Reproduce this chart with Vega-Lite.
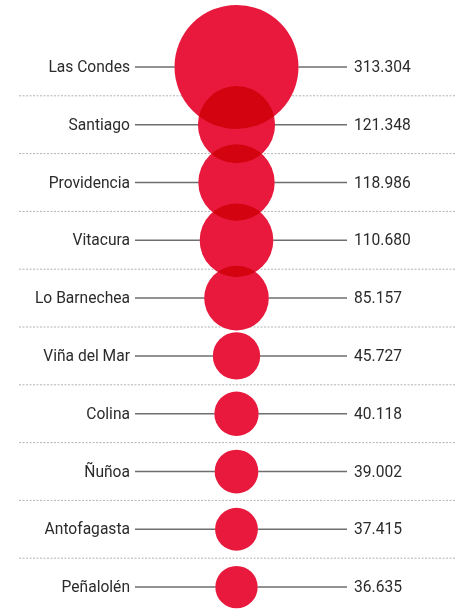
{
  "$schema": "https://vega.github.io/schema/vega-lite/v6.json",
  "width": 437,
  "height": 578,
  "autosize": {"type": "none"},
  "padding": {"left": 18, "top": 38, "right": 4, "bottom": 0},
  "background": "white",
  "config": {
    "view": {"stroke": null},
    "locale": {"number": {"decimal": ",", "thousands": ".", "grouping": [3], "currency": ["$", ""]}},
    "text": {"font": "Roboto"}
  },
  "data": {
    "values": [
      {"comuna": "Las Condes", "valor": 313304},
      {"comuna": "Santiago", "valor": 121348},
      {"comuna": "Providencia", "valor": 118986},
      {"comuna": "Vitacura", "valor": 110680},
      {"comuna": "Lo Barnechea", "valor": 85157},
      {"comuna": "Viña del Mar", "valor": 45727},
      {"comuna": "Colina", "valor": 40118},
      {"comuna": "Ñuñoa", "valor": 39002},
      {"comuna": "Antofagasta", "valor": 37415},
      {"comuna": "Peñalolén", "valor": 36635}
    ]
  },
  "encoding": {
    "y": {
      "field": "comuna",
      "type": "nominal",
      "sort": null,
      "scale": {"paddingInner": 0, "paddingOuter": 0},
      "axis": null
    }
  },
  "layer": [
    {
      "mark": {"type": "rule", "strokeDash": [2, 1.5], "color": "#b3b3b3", "strokeWidth": 1},
      "encoding": {
        "y": {"field": "comuna", "type": "nominal", "sort": null, "bandPosition": 1}
      }
    },
    {
      "mark": {"type": "rule", "color": "#6e6e6e", "strokeWidth": 1.5},
      "encoding": {
        "x": {"datum": -101.5, "type": "quantitative", "scale": {"domain": [-218.5, 218.5], "nice": false, "zero": false}, "axis": null},
        "x2": {"datum": 110.5}
      }
    },
    {
      "mark": {"type": "circle", "color": "white", "opacity": 1},
      "encoding": {
        "x": {"datum": 0, "type": "quantitative", "scale": {"domain": [-218.5, 218.5], "nice": false, "zero": false}, "axis": null},
        "size": {"field": "valor", "type": "quantitative", "scale": {"domain": [0, 313304], "range": [0, 15376], "zero": true}, "legend": null}
      }
    },
    {
      "mark": {"type": "circle", "color": "#E8193C", "opacity": 1, "blend": "multiply"},
      "encoding": {
        "x": {"datum": 0, "type": "quantitative", "scale": {"domain": [-218.5, 218.5], "nice": false, "zero": false}, "axis": null},
        "size": {"field": "valor", "type": "quantitative", "scale": {"domain": [0, 313304], "range": [0, 15376], "zero": true}, "legend": null}
      }
    },
    {
      "mark": {"type": "text", "align": "right", "baseline": "middle", "dx": -5, "fontSize": 15.6, "color": "#2b2b2b"},
      "encoding": {
        "x": {"datum": -101.5, "type": "quantitative", "scale": {"domain": [-218.5, 218.5], "nice": false, "zero": false}, "axis": null},
        "text": {"field": "comuna", "type": "nominal"}
      }
    },
    {
      "mark": {"type": "text", "align": "left", "baseline": "middle", "dx": 7, "fontSize": 15.6, "color": "#2b2b2b"},
      "encoding": {
        "x": {"datum": 110.5, "type": "quantitative", "scale": {"domain": [-218.5, 218.5], "nice": false, "zero": false}, "axis": null},
        "text": {"field": "valor", "type": "quantitative", "format": ",d"}
      }
    }
  ]
}
